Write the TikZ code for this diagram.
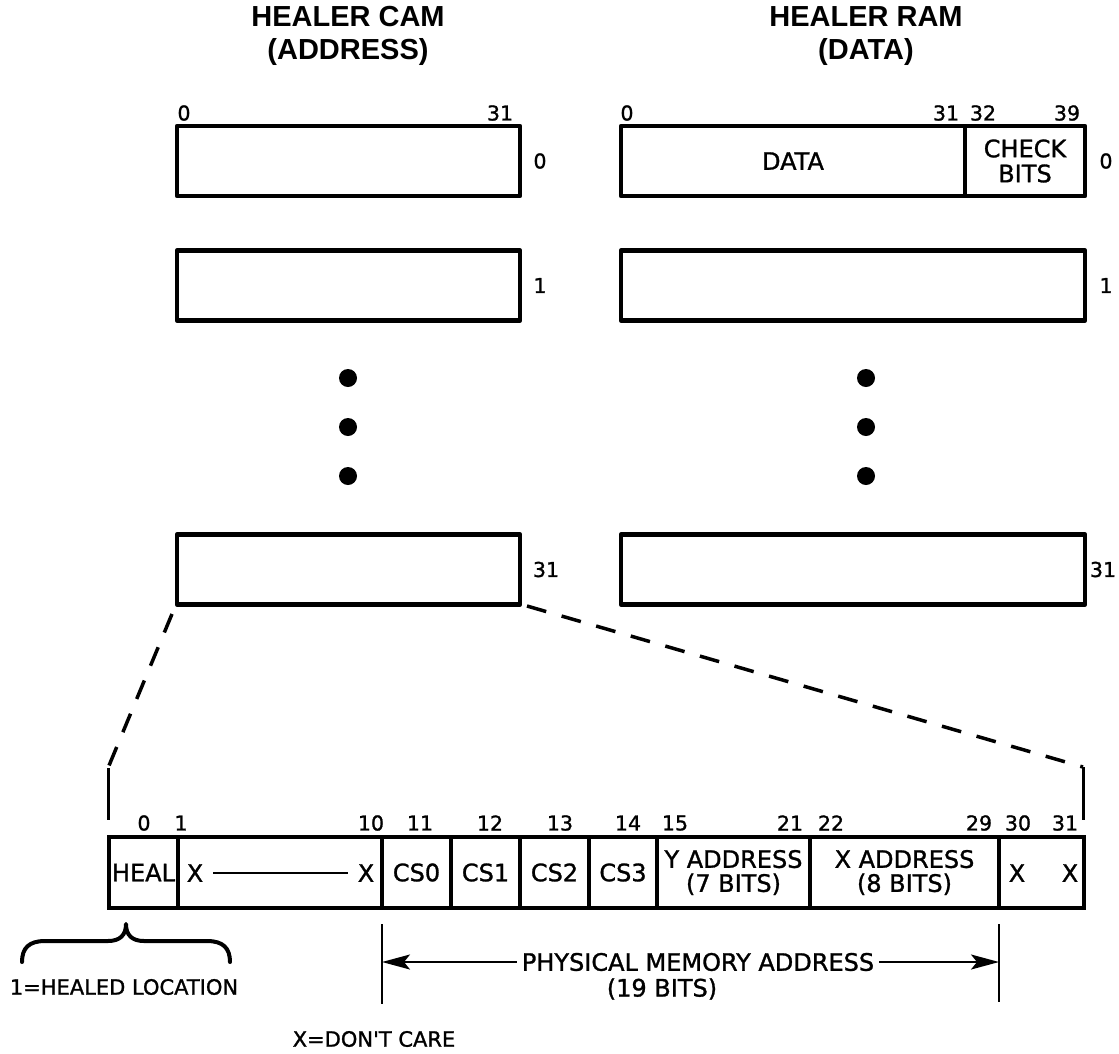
\documentclass[tikz,border=0pt]{standalone}
\usepackage{fontspec}
\setmainfont{DejaVu Sans}[Ligatures=TeXOff]
\newfontfamily\ltrfamily{DejaVu Sans}[FakeBold=1.2, Ligatures=TeXOff]
\newfontfamily\ttlfamily{Liberation Sans}
\usetikzlibrary{arrows.meta}
\newcommand\ltrfont{\ltrfamily\fontsize{24}{27}\selectfont}
\newcommand\smltrfont{\ltrfamily\fontsize{21}{24}\selectfont}
\newcommand\nmbfont{\ltrfamily\fontsize{20.5}{22}\selectfont}
\newcommand\ttlfont{\ttlfamily\bfseries\fontsize{29}{34}\selectfont}
\begin{document}
\begin{tikzpicture}[x=1pt,y=-1pt,
  regbox/.style={draw, line width=4.5pt, line join=round, inner sep=0pt, minimum height=70pt, font=\ltrfont, align=center},
  cell/.style={draw, line width=4.5pt, inner sep=0pt, minimum height=71pt, align=center, font=\ltrfont},
  ttl/.style={font=\ttlfont, align=center, inner sep=0pt},
  num/.style={font=\nmbfont, inner sep=0pt},
  ltr/.style={font=\ltrfont, inner sep=0pt, align=center},
  smltr/.style={font=\smltrfont, inner sep=0pt, align=center},
  dotmark/.style={circle, fill=black, minimum size=18pt, inner sep=0pt},
  zoomline/.style={line width=3.5pt, dash pattern=on 20pt off 16pt},
  zoomend/.style={line width=3pt},
  tick/.style={line width=2.5pt},
  dimline/.style={line width=2pt},
  tipstyle/.style={-{Stealth[length=28pt, width=15pt, inset=6pt]}},
  bracestyle/.style={line width=4pt, line cap=round, line join=round}
]
\useasboundingbox (0,0) rectangle (1119,1053);

% titles
\node[ttl] (t1) at (348,17) {HEALER CAM};
\node[ttl] (t1b) at (348,52) {(ADDRESS)};
\node[ttl] (t2) at (866,17) {HEALER RAM};
\node[ttl] (t2b) at (866,52) {(DATA)};

% CAM boxes
\node[regbox, minimum width=343pt] (cam0) at (348.5,161) {};
\node[regbox, minimum width=343pt] (cam1) at (348.5,285.5) {};
\node[regbox, minimum width=343pt] (cam31) at (348.5,569.5) {};

% RAM boxes
\node[regbox, minimum width=344pt] (ramdata) at (793,161) {DATA};
\node[regbox, minimum width=120pt] (ramchk) at (1025,161) {CHECK\\[-2pt]BITS};
\node[regbox, minimum width=464pt] (ram1) at (853,285.5) {};
\node[regbox, minimum width=464pt] (ram31) at (853,569.5) {};

% top bit numbers
\node[num] (nc0) at (184,113) {0};
\node[num] (nc31) at (500,113) {31};
\node[num] (nr0) at (627,113) {0};
\node[num] (nr31) at (946,113) {31};
\node[num] (nr32) at (983,113) {32};
\node[num] (nr39) at (1067,113) {39};

% row numbers
\node[num] (rc0) at (540,161) {0};
\node[num] (rc1) at (540,285.5) {1};
\node[num] (rc31) at (546,569.5) {31};
\node[num] (rr0) at (1106,161) {0};
\node[num] (rr1) at (1106,285.5) {1};
\node[num] (rr31) at (1103,569.5) {31};

% dots
\node[dotmark] (dl1) at (348,378) {};
\node[dotmark] (dl2) at (348,427) {};
\node[dotmark] (dl3) at (348,476) {};
\node[dotmark] (dr1) at (866,378) {};
\node[dotmark] (dr2) at (866,427) {};
\node[dotmark] (dr3) at (866,476) {};

% expanded register
\node[cell, minimum width=69pt] (heal) at (143.5,872.5) {HEAL};
\node[cell, minimum width=204pt] (xs) at (280,872.5) {};
\node[cell, minimum width=69pt] (cs0) at (416.5,872.5) {CS0};
\node[cell, minimum width=69pt] (cs1) at (485.5,872.5) {CS1};
\node[cell, minimum width=69pt] (cs2) at (554.5,872.5) {CS2};
\node[cell, minimum width=68pt] (cs3) at (623,872.5) {CS3};
\node[cell, minimum width=153pt] (yaddr) at (733.5,872.5) {Y ADDRESS\\[-3pt](7 BITS)};
\node[cell, minimum width=189pt] (xaddr) at (904.5,872.5) {X ADDRESS\\[-3pt](8 BITS)};
\node[cell, minimum width=85pt] (xx) at (1041.5,872.5) {};

\node[ltr] (xa) at (195,873) {X};
\node[ltr] (xb) at (366,873) {X};
\draw[dimline] ([xshift=10pt]xa.east) -- ([xshift=-10pt]xb.west);
\node[ltr] (xc) at (1017,873) {X};
\node[ltr] (xd) at (1070,873) {X};

% register bit numbers
\node[num] (b0) at (144,823) {0};
\node[num] (b1) at (181,823) {1};
\node[num] (b10) at (371,823) {10};
\node[num] (b11) at (420,823) {11};
\node[num] (b12) at (490,823) {12};
\node[num] (b13) at (560,823) {13};
\node[num] (b14) at (628,823) {14};
\node[num] (b15) at (675,823) {15};
\node[num] (b21) at (790,823) {21};
\node[num] (b22) at (831,823) {22};
\node[num] (b29) at (979,823) {29};
\node[num] (b30) at (1018,823) {30};
\node[num] (b31) at (1065,823) {31};

% zoom lines
\coordinate (zl1) at (172,614);
\coordinate (zl2) at (108,768);
\coordinate (zl3) at (108,820);
\coordinate (zr1) at (527,606);
\coordinate (zr2) at (1083,767);
\coordinate (zr3) at (1083,820);
\draw[zoomline] (zl1) -- (zl2);
\draw[zoomend] (zl2) -- (zl3);
\draw[zoomline] (zr1) -- (zr2);
\draw[zoomend] (zr2) -- (zr3);

% brace
\draw[bracestyle] (22,962) .. controls (22,948) and (29,941) .. (45,941) -- (108,941)
  .. controls (120,941) and (126,935) .. (126,924)
  .. controls (126,935) and (132,941) .. (144,941) -- (207,941)
  .. controls (223,941) and (230,948) .. (230,962);
\node[smltr] (healed) at (124,987) {1=HEALED LOCATION};

% physical address dimension
\coordinate (tl1) at (382,924);
\coordinate (tl2) at (382,1004);
\coordinate (tr1) at (999,924);
\coordinate (tr2) at (999,1002);
\draw[tick] (tl1) -- (tl2);
\draw[tick] (tr1) -- (tr2);
\node[ltr, inner sep=5pt] (pma) at (698,962) {PHYSICAL MEMORY ADDRESS};
\node[ltr] (bits19) at (662,989) {(19 BITS)};
\coordinate (al) at (382,962);
\coordinate (ar) at (999,962);
\draw[dimline, tipstyle] (pma.west) -- (al);
\draw[dimline, tipstyle] (pma.east) -- (ar);

\node[smltr] (dc) at (374,1039) {X=DON'T CARE};
\end{tikzpicture}
\end{document}
